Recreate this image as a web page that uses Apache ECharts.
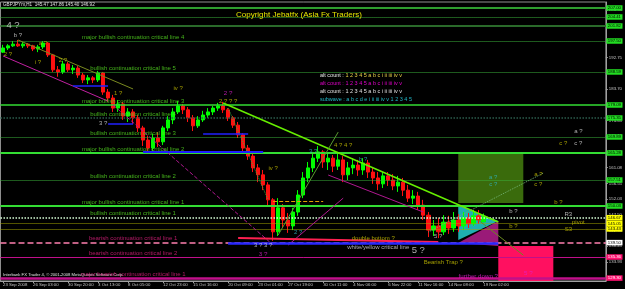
<!DOCTYPE html>
<html><head><meta charset="utf-8">
<script src="https://cdn.jsdelivr.net/npm/echarts@6/dist/echarts.min.js"></script>
<style>html,body{margin:0;padding:0;background:#000;}#c{width:625px;height:289px;}</style>
</head><body><div id="c"></div>
<script>
const FONT = 'Liberation Sans';

// ---- price bars (GBPJPY H1, grouped) ----
const openP = [194.3,195.5,196.1,196.6,196.1,196.6,196.1,195.2,195.8,196.9,
193.5,189.2,188.6,190.9,189.2,189.7,187.7,186.3,186.9,186.3,
188.3,182.8,181.1,178.2,179.4,175.9,177.1,175.4,172.5,169.0,
166.7,169.6,168.5,172.5,174.8,177.1,178.8,177.7,175.4,173.1,
174.8,176.2,177.1,178.2,178.8,177.7,175.4,173.3,170.5,166.7,
164.4,161.0,159.0,156.1,151.8,142.6,149.5,146.0,144.3,148.3,
153.2,158.1,161.0,163.8,165.6,162.7,163.8,161.5,163.3,159.0,
161.0,161.8,160.4,162.4,159.8,158.1,156.4,158.7,157.5,155.8,
156.9,154.6,152.3,152.9,150.3,147.4,143.1,144.3,142.6,145.4,
143.7,146.0,144.3,146.6,144.9,147.2,145.47];
const closeP = [195.5,196.1,196.6,196.1,196.6,196.1,195.2,195.8,196.9,193.5,
189.2,188.6,190.9,189.2,189.7,187.7,186.3,186.9,186.3,188.3,
182.8,181.1,178.2,179.4,175.9,177.1,175.4,172.5,169.0,166.7,
169.6,168.5,172.5,174.8,177.1,178.8,177.7,175.4,173.1,174.8,
176.2,177.1,178.2,178.8,177.7,175.4,173.3,170.5,166.7,164.4,
161.0,159.0,156.1,151.8,142.6,149.5,146.0,144.3,148.3,153.2,
158.1,161.0,163.8,165.6,162.7,163.8,161.5,163.3,159.0,161.0,
161.8,160.4,162.4,159.8,158.1,156.4,158.7,157.5,155.8,156.9,
154.6,152.3,152.9,150.3,147.4,143.1,144.3,142.6,145.4,143.7,
146.0,144.3,146.6,144.9,147.2,146.0,146.92];
const lowP = [194.1,194.9,195.8,195.8,195.5,195.5,194.6,194.3,195.2,192.9,
188.6,187.2,188.0,188.6,188.0,186.9,185.4,185.1,185.4,185.7,
182.0,180.0,177.1,177.1,174.8,174.2,173.6,171.3,167.3,165.6,
165.9,167.0,167.6,171.6,173.6,176.5,176.5,174.2,171.6,172.5,
174.2,175.4,176.2,177.4,176.8,174.5,172.5,169.6,165.6,163.3,
159.8,156.9,154.6,150.3,140.0,141.4,143.7,142.3,143.1,147.2,
152.3,156.9,159.8,162.7,161.0,160.4,159.8,160.4,156.9,157.5,
159.2,158.7,159.0,158.1,156.4,154.6,155.2,155.8,154.6,154.1,
152.9,151.2,150.6,148.9,146.0,141.1,141.4,140.8,141.7,142.0,
142.6,142.6,143.1,143.7,144.3,144.9,145.40];
const highP = [196.4,196.6,197.5,197.8,197.2,196.9,196.4,196.4,197.5,197.2,
193.8,190.3,191.8,191.5,190.6,190.3,188.3,187.7,187.4,188.9,
188.6,183.7,182.0,180.5,180.0,178.2,177.9,176.2,173.1,170.2,
170.8,171.3,173.1,175.9,178.2,180.2,179.4,178.5,176.2,175.9,
177.4,178.2,178.8,179.7,180.0,178.2,175.9,174.2,171.0,167.6,
165.6,162.1,160.4,156.9,152.3,152.3,150.6,148.0,149.5,154.6,
159.8,162.7,165.6,167.3,166.1,165.0,164.7,165.6,164.4,162.7,
163.8,163.3,163.8,163.3,161.0,159.8,159.8,159.8,159.2,158.7,
158.1,156.1,154.6,154.1,151.8,148.3,146.0,146.6,147.4,147.2,
148.3,147.7,148.3,148.0,148.9,148.9,147.86];

// ---- axes ----
const slotCount = 121;
const xTickLabels = ['23 Sep 2008','26 Sep 03:00','30 Sep 20:00','3 Oct 13:00','8 Oct 05:00','12 Oct 23:00','15 Oct 16:00','20 Oct 09:00','23 Oct 01:00','27 Oct 19:00','30 Oct 11:00','4 Nov 06:00','6 Nov 22:00','11 Nov 16:00','14 Nov 08:00','19 Nov 02:00'];
const xTickSlots = [0,6,13,19,25,32,38,45,51,57,64,70,77,83,89,96];
const yTickValues = [206.33,201.80,197.28,192.75,188.23,183.70,179.18,174.65,170.13,165.60,161.08,156.55,152.03,147.50,142.98,138.45,133.93,129.40];
const yMin = 128.46, yMax = 208.72;

// ---- horizontal levels ----
const levelPrices = [207.00,204.41,201.82,197.50,188.59,179.09,175.35,169.89,165.28,157.51,150.03,146.67,145.05,143.43,139.50,135.36,129.30];
const levelNames = ['','','','major bullish continuation critical line 4','bullish continuation critical line 5','major bullish continuation critical line 3','bullish continuation critical line 4','bullish continuation critical line 3','major bullish continuation critical line 2','bullish continuation critical line 2','major bullish continuation critical line 1','bullish continuation critical line 1','','','bearish continuation critical line 1','bearish continuation critical line 2','major bearish continuation critical line 1'];

// ---- trend lines / segments (slot index, price) ----
const trendLines = [
  [[44,179.67],[99,145.43]],
  [[3,197.8],[26,183.7]],
  [[0,193.2],[21,180.2]],
  [[22,179.1],[54,138.8]],
  [[45,178.2],[53,151.8]],
  [[55,141.7],[67,171.3]],
  [[57,138.8],[68,152.3]],
  [[65,158.95],[84,148.3]],
  [[47,140.8],[87,139.7]],
  [[45,139.4],[99,139.4]],
  [[85,142.55],[108,159.5]],
  [[95,146.0],[104,135.9]],
  [[14,184.6],[21,184.6]],
  [[21,173.6],[26,173.6]],
  [[40,170.75],[49,170.75]],
  [[28,165.57],[52,165.57]],
  [[54,151.5],[64,151.5]]
];
// ---- zones ----
const boxes = [[[91,165.28],[104,150.9]], [[99,138.5],[110,128.46]]];
const triangles = [
  [[91,150.3],[91,140.25],[99,145.7]],
  [[91,139.4],[99,145.7],[99,138.5]]
];

// ---- text notes ----
const yellowText = ['double bottom ?','Bearish Trap ?','pivot','S3','b ?','b ?','a ?','c ?','c ?','2 ?','i ?','2 ?','a ?','1 ?','iv ?','2 ? ? ?','iv ?','4 ? 4 ?'];
const yellowAt = [[74,140.8],[88,133.9],[115,145.4],[113,143.4],[111,151.2],[102,144.3],[107,159.0],[107,156.4],[112,168.2],[1,193.6],[7,191.5],[12,192.0],[8,196.9],[23,182.5],[35,184.0],[45,180.2],[54,161.0],[68,167.6]];
const whiteText = ['b ?','3 ?','a ?','c ?','R3','3 ? 3 ?','white/yellow critical line','b ?','5 ?'];
const whiteAt = [[3,199.2],[20,173.9],[115,171.6],[115,168.2],[113,147.7],[52,138.8],[75,138.0],[102,148.6],[87,141.4]];
const magentaText = ['further down ?','2 ?','3 ?','5 ?'];
const magentaAt = [[95,129.9],[45,182.5],[52,136.2],[105,130.8]];
const cyanText = ['3 ?','b ?','a ?','c ?','2 ?'];
const cyanAt = [[62,165.9],[72,163.5],[98,158.4],[98,156.4],[59,142.6]];
const bigText = ['4 ?','5 ?'];
const bigAt = [[2,202.1],[83,137.4]];

const legendRows = ['alt count : 1 2 3 4 5 a b c i ii iii iv v','alt count : 1 2 3 4 5 a b c i ii iii iv v','alt count : 1 2 3 4 5 a b c i ii iii iv v','subwave : a b c d e i ii iii iv v 1 2 3 4 5'];

// ---------- styles ----------
const G = '#22dd22', Y = '#ffff00', W = '#ffffff', P = '#ff1070';
const levelStyle = [
  {c:'#2e9e2e',t:'solid',w:2,box:G},{c:'#3cb43c',t:'dotted',w:1,box:G},{c:'#2a6a2a',t:'solid',w:2,box:G},
  {c:'#3cb43c',t:'dotted',w:1,box:G},{c:'#3cb43c',t:'dotted',w:1,box:G},{c:'#33dd33',t:'solid',w:1.5,box:G},
  {c:'#2c5c4c',t:'dotted',w:1.5,box:G},{c:'#3cb43c',t:'dotted',w:1,box:G},{c:'#33dd33',t:'solid',w:2,box:G},
  {c:'#3cb43c',t:'dotted',w:1,box:G},{c:'#33dd33',t:'solid',w:2,box:G},{c:'#d8ffd8',t:'dotted',w:1.5,box:Y},
  {c:'#a8a800',t:'dotted',w:1,box:Y},{c:'#a8a800',t:'dotted',w:1,box:Y},{c:'#ff80b0',t:'dashed',w:1.5,box:W},
  {c:'#c0108a',t:'solid',w:1,box:P},{c:'#c0108a',t:'solid',w:2.5,box:P}
];
const trendStyle = [
  {c:'#66ee00',t:'solid',w:1.5},{c:'#7a8a20',t:'solid',w:1},{c:'#c020a0',t:'solid',w:1},{c:'#b01890',t:'dashed',w:1},
  {c:'#3cb03c',t:'dotted',w:1},{c:'#5a9a30',t:'solid',w:1},{c:'#b01890',t:'solid',w:1},{c:'#b01890',t:'solid',w:1},
  {c:'#ff2050',t:'solid',w:2},{c:'#2828ff',t:'solid',w:2.5},{c:'#70b070',t:'dotted',w:1},{c:'#6a8a20',t:'solid',w:1},
  {c:'#2020ff',t:'solid',w:1.5},{c:'#2020ff',t:'solid',w:1.5},{c:'#2020ff',t:'solid',w:1.5},{c:'#2020ff',t:'solid',w:2},
  {c:'#e0a000',t:'dashed',w:1}
];
const boxColors = ['#3a6b0c','#ff1060'];
const triColors = ['#1fb0b0','#9a1a78'];

const candleData = openP.map((o,i)=>[o, closeP[i], lowP[i], highP[i]]);
const slots = Array.from({length: slotCount}, (_, i) => 's' + i);

const levelLines = levelPrices.map((p,i)=>({
  yAxis: p,
  lineStyle:{color:levelStyle[i].c, type:levelStyle[i].t, width:levelStyle[i].w},
  label:{show:true, position:'end', distance:0.5, formatter:p.toFixed(2), fontSize:4.3, fontFamily:FONT,
    color: levelStyle[i].box===P ? '#ffffff' : '#000000', backgroundColor:levelStyle[i].box, padding:[1,1.5,0.5,1.5]}
}));
const trendItems = trendLines.map((seg,i)=>[
  {coord:seg[0], lineStyle:{color:trendStyle[i].c, type:trendStyle[i].t, width:trendStyle[i].w}},
  {coord:seg[1]}
]);

function noteSeries(texts, at, color, size, z){
  return {
    type:'scatter', silent:true, z: z||6, symbol:'circle', symbolSize:1,
    itemStyle:{color:'rgba(0,0,0,0)'},
    data: texts.map((t,i)=>({name:t, value:at[i]})),
    label:{show:true, position:'inside', formatter:'{b}', color:color, fontSize:size, fontFamily:FONT}
  };
}
const bullIdx = [], bearIdx = [];
levelNames.forEach((n,i)=>{ if(n){ (n.indexOf('bearish')>=0 ? bearIdx : bullIdx).push(i);} });
function levelLabelSeries(idxs, color){
  return {
    type:'scatter', silent:true, z:6, symbol:'circle', symbolSize:1, itemStyle:{color:'rgba(0,0,0,0)'},
    data: idxs.map(i=>({name:levelNames[i], value:[26, levelPrices[i]]})),
    label:{show:true, position:'top', distance:0.5, formatter:'{b}', color:color, fontSize:6, fontFamily:FONT}
  };
}

const option = {
  animation:false,
  backgroundColor:'#000000',
  textStyle:{fontFamily:FONT},
  title:[
    {text:'GBPJPYm,H1  145.47 147.86 145.40 146.92', left:3, top:2.5, padding:0, textStyle:{color:'#e0e0e0', fontSize:4.6, fontWeight:'normal', fontFamily:FONT}},
    {text:'Copyright Jebatfx (Asia Fx Traders)', left:236, top:11, padding:0, textStyle:{color:'#e6e600', fontSize:8, fontWeight:'normal', fontFamily:FONT}},
    {text:'Interbank FX Trader 4, \u00a9 2001-2008 MetaQuotes Software Corp.', left:3, top:272.5, padding:0, textStyle:{color:'#e0e0e0', fontSize:4.2, fontWeight:'normal', fontFamily:FONT}},
    {text:'{a|alt count :}{b|' + legendRows[0].slice(11) + '}', left:320, top:72.5, padding:0, textStyle:{fontSize:5.5, fontWeight:'normal', fontFamily:FONT, rich:{a:{color:'#e8e8e8', fontSize:5.5, fontFamily:FONT}, b:{color:'#e8d048', fontSize:5.5, fontFamily:FONT}}}},
    {text:legendRows[1], left:320, top:80.5, padding:0, textStyle:{color:'#e000c8', fontSize:5.5, fontWeight:'normal', fontFamily:FONT}},
    {text:legendRows[2], left:320, top:88.5, padding:0, textStyle:{color:'#e0e0e0', fontSize:5.5, fontWeight:'normal', fontFamily:FONT}},
    {text:legendRows[3], left:320, top:96.5, padding:0, textStyle:{color:'#20b8c8', fontSize:5.5, fontWeight:'normal', fontFamily:FONT}}
  ],
  grid:{left:0, right:18, top:2, bottom:8, show:true, borderColor:'#909090', borderWidth:1, backgroundColor:'#000000'},
  xAxis:{
    type:'category', data:slots, boundaryGap:true,
    axisLine:{lineStyle:{color:'#a0a0a0'}},
    axisTick:{show:true, length:2, alignWithLabel:true, interval:(i)=>xTickSlots.indexOf(i)>=0, lineStyle:{color:'#a0a0a0'}},
    axisLabel:{interval:(i)=>xTickSlots.indexOf(i)>=0, formatter:(v,i)=>xTickLabels[xTickSlots.indexOf(i)], color:'#c8c8c8', fontSize:4.3, fontFamily:FONT, align:'left', margin:1.5},
    splitLine:{show:false}
  },
  yAxis:{
    type:'value', position:'right', min:yMin, max:yMax,
    axisLine:{show:true, lineStyle:{color:'#a0a0a0'}},
    axisTick:{show:true, length:2, customValues:yTickValues, lineStyle:{color:'#a0a0a0'}},
    axisLabel:{customValues:yTickValues, formatter:(v)=>v.toFixed(2), color:'#c8c8c8', fontSize:4.3, fontFamily:FONT, margin:3},
    splitLine:{show:false}
  },
  series:[
    {
      type:'custom', silent:true, z:1,
      data: triangles.map((t,i)=>[i]),
      renderItem:(params, api)=>{
        const tri = triangles[params.dataIndex];
        return {type:'polygon', shape:{points: tri.map(p=>api.coord(p))}, style:{fill:triColors[params.dataIndex]}};
      }
    },
    {
      type:'candlestick', z:3, data:candleData, barWidth:4,
      itemStyle:{color:'#00ff00', color0:'#ff1010', borderColor:'#00ff00', borderColor0:'#ff1010', borderWidth:1},
      markArea:{silent:true, data: boxes.map((b,i)=>[{xAxis:b[0][0], yAxis:b[0][1], itemStyle:{color:boxColors[i]}},{xAxis:b[1][0], yAxis:b[1][1]}])},
      markLine:{silent:true, symbol:['none','none'], animation:false, label:{show:false},
        data: levelLines.concat(trendItems)}
    },
    levelLabelSeries(bullIdx, '#55dd22'),
    levelLabelSeries(bearIdx, '#e02080'),
    noteSeries(yellowText, yellowAt, '#c8c000', 6),
    noteSeries(whiteText, whiteAt, '#d8d8d8', 6),
    noteSeries(magentaText, magentaAt, '#e020d0', 6.2),
    noteSeries(cyanText, cyanAt, '#30b8c8', 6),
    noteSeries(bigText, bigAt, '#d8d8d8', 9.5)
  ]
};
const chart = echarts.init(document.getElementById('c'));
chart.setOption(option);
</script>
</body></html>
